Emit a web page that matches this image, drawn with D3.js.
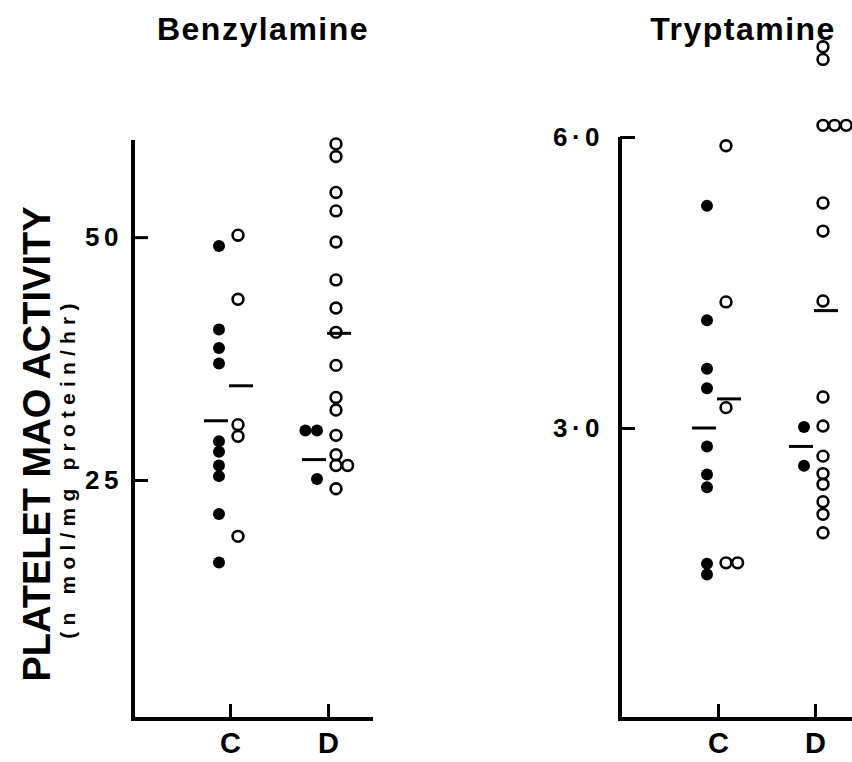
<!DOCTYPE html>
<html lang="en">
<head>
  <meta charset="UTF-8" />
  <title>Platelet MAO activity</title>
  <script src="https://d3js.org/d3.v7.min.js"></script>
  <style>
    body {
      margin: 0;
      background: #fff;
    }
    svg text {
      font-family: "Liberation Sans", Arial, sans-serif;
      font-weight: bold;
      fill: #000;
    }
  </style>
</head>
<body>
  <svg id="chart" width="852" height="762"></svg>

  <script>
    // categories and subgroups (filled = solid dots, open = hollow dots)
    const categories = ["C", "D"];
    const groups = ["filled", "open"];

    // Benzylamine values (nmol/mg protein/hr)
    const benzCFilled = [49.1, 40.5, 38.6, 37.0, 29.0, 27.9, 26.5, 25.4, 21.5, 16.5];
    const benzCOpen = [50.2, 43.6, 30.7, 29.5, 19.2];
    const benzDFilled = [30.1, 30.1, 25.1];
    const benzDOpen = [59.6, 58.3, 54.6, 52.7, 49.5, 45.6, 42.7, 40.2, 36.8, 33.5, 32.2, 29.6, 27.6, 26.5, 26.5, 24.1];
    // group means in order C filled, C open, D filled, D open
    const benzMeans = [31.1, 34.7, 27.1, 40.1];
    const benzTicks = [25, 50];
    const benzExtent = [0.4, 60];

    // Tryptamine values
    const trypCFilled = [5.29, 4.11, 3.61, 3.41, 2.81, 2.52, 2.39, 1.60, 1.49];
    const trypCOpen = [5.91, 4.30, 3.21, 1.61, 1.61];
    const trypDFilled = [3.01, 2.61];
    const trypDOpen = [6.93, 6.80, 6.12, 6.12, 6.12, 5.32, 5.03, 4.31, 3.32, 3.02, 2.71, 2.53, 2.42, 2.24, 2.11, 1.92];
    const trypMeans = [3.0, 3.30, 2.81, 4.21];
    const trypTicks = [3, 6];
    const trypExtent = [0, 6];

    const panels = [
      {
        title: "Benzylamine",
        titleX: 263,
        series: [benzCFilled, benzCOpen, benzDFilled, benzDOpen],
        means: benzMeans,
        ticks: benzTicks,
        extent: benzExtent,
        fmt: (d) => d3.format("d")(d),
        axisX: 133, right: 373, top: 140, bottom: 719,
        catRange: [230, 328],
        pad: 10
      },
      {
        title: "Tryptamine",
        titleX: 743,
        series: [trypCFilled, trypCOpen, trypDFilled, trypDOpen],
        means: trypMeans,
        ticks: trypTicks,
        extent: trypExtent,
        fmt: (d) => d.toFixed(1).replace(".", "\u00B7"),
        axisX: 620, right: 870, top: 137, bottom: 719,
        catRange: [718, 815],
        pad: 16
      }
    ];

    const groupOffset = { filled: -11, open: 8 };
    const meanShift = { filled: -3, open: 3 };
    const dodge = { filled: -11.6, open: 11.6 };

    const svg = d3.select("#chart");

    // shared y title
    svg.append("text")
      .attr("transform", "translate(50,444) rotate(-90)")
      .attr("text-anchor", "middle")
      .style("font-size", "38px")
      .text("PLATELET MAO ACTIVITY");

    svg.append("text")
      .attr("transform", "translate(75,468) rotate(-90)")
      .attr("text-anchor", "middle")
      .style("font-size", "21px")
      .style("letter-spacing", "6.2px")
      .text("(n mol/mg protein/hr)");

    panels.forEach((p) => {
      const y = d3.scaleLinear().domain(p.extent).range([p.bottom, p.top]);
      const x = d3.scalePoint().domain(categories).range(p.catRange);

      const g = svg.append("g");

      // title
      g.append("text")
        .attr("x", p.titleX)
        .attr("y", 40)
        .attr("text-anchor", "middle")
        .style("font-size", "32px")
        .style("letter-spacing", "1.5px")
        .text(p.title);

      // axis frame
      g.append("path")
        .attr("d", `M${p.axisX},${p.top}V${p.bottom}H${p.right}`)
        .attr("fill", "none")
        .attr("stroke", "#000")
        .attr("stroke-width", 4);

      // y ticks
      const yAxis = g.append("g")
        .attr("transform", `translate(${p.axisX},0)`)
        .call(d3.axisLeft(y).tickValues(p.ticks).tickFormat(p.fmt)
          .tickSize(-15).tickPadding(p.pad));
      yAxis.select(".domain").remove();
      yAxis.selectAll("line").attr("stroke-width", 3);
      yAxis.selectAll("text")
        .attr("fill", "#000")
        .style("font-size", "26px")
        .style("letter-spacing", "4.5px")
        .style("font-family", "'Liberation Sans', Arial, sans-serif");

      // x ticks
      const xAxis = g.append("g")
        .attr("transform", `translate(0,${p.bottom})`)
        .call(d3.axisBottom(x).tickSize(-15).tickPadding(13));
      xAxis.select(".domain").remove();
      xAxis.selectAll("line").attr("stroke-width", 3);
      xAxis.selectAll("text")
        .attr("fill", "#000")
        .style("font-size", "29px")
        .style("font-family", "'Liberation Sans', Arial, sans-serif");

      // points
      const points = [];
      const lines = [];
      categories.forEach((cat, i) => {
        groups.forEach((grp, j) => {
          const vals = p.series[i * 2 + j];
          const seen = new Map();
          const col = x(cat) + groupOffset[grp];
          vals.forEach((v) => {
            const k = seen.get(v) || 0;
            seen.set(v, k + 1);
            points.push({ grp, v, cx: col + k * dodge[grp] });
          });
          lines.push({ cx: col + meanShift[grp], v: p.means[i * 2 + j] });
        });
      });

      g.selectAll(".mean")
        .data(lines)
        .enter()
        .append("line")
        .attr("class", "mean")
        .attr("x1", (d) => d.cx - 12)
        .attr("x2", (d) => d.cx + 12)
        .attr("y1", (d) => y(d.v))
        .attr("y2", (d) => y(d.v))
        .attr("stroke", "#000")
        .attr("stroke-width", 3);

      g.selectAll(".pt")
        .data(points)
        .enter()
        .append("circle")
        .attr("class", "pt")
        .attr("cx", (d) => d.cx)
        .attr("cy", (d) => y(d.v))
        .attr("r", (d) => (d.grp === "filled" ? 6 : 5.4))
        .attr("fill", (d) => (d.grp === "filled" ? "#000" : "none"))
        .attr("stroke", (d) => (d.grp === "filled" ? "none" : "#000"))
        .attr("stroke-width", 2.6);
    });
  </script>
</body>
</html>
